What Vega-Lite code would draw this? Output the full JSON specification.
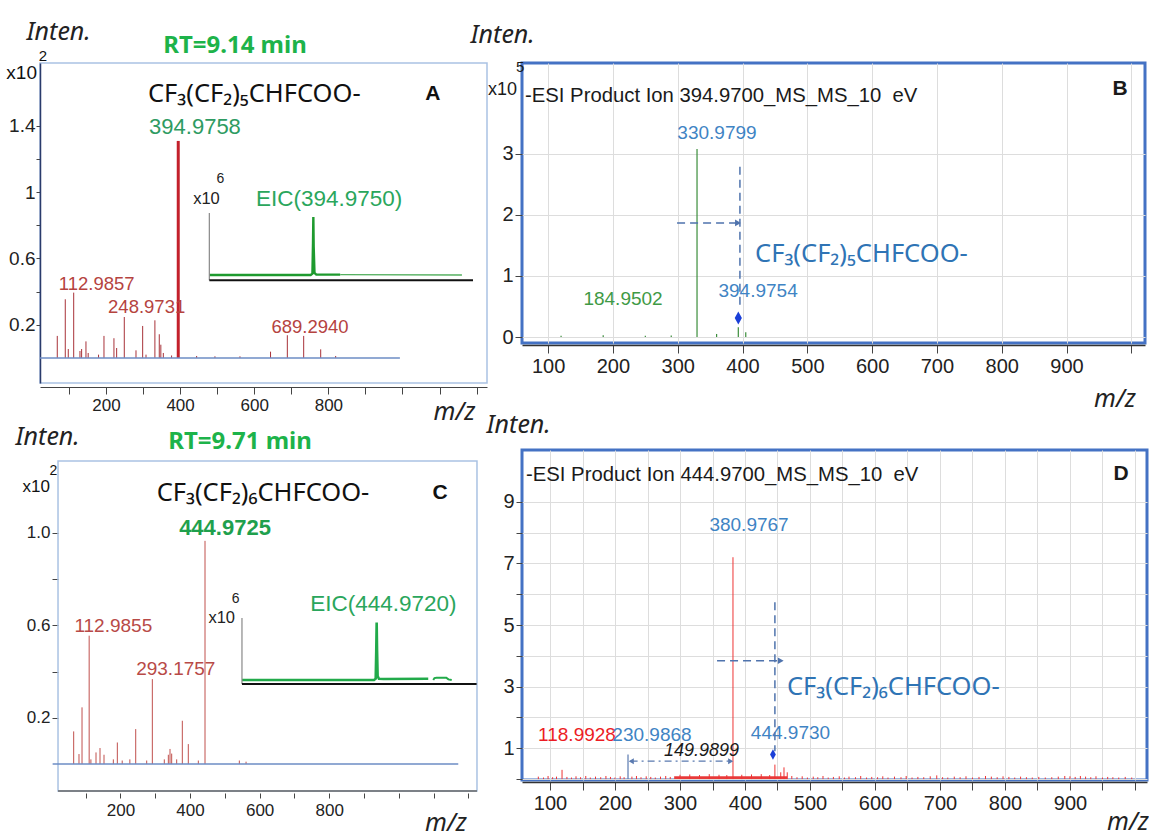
{
"$schema":"https://vega.github.io/schema/vega-lite/v6.json",
"background":"white",
"padding":{"left":5,"top":18,"right":2,"bottom":2},
"config":{"font":"Liberation Sans","view":{"stroke":null},
 "axis":{"labelFont":"Liberation Sans","labelColor":"#222","tickColor":"#444","domainColor":"#444","gridColor":"#dddddd","gridWidth":1,"titleFont":"Noto Sans","titleFontStyle":"italic","titleFontWeight":"normal","titleColor":"#222","titleFontSize":25,"titleAngle":0,"titleBaseline":"middle","labelOverlap":false,"labelFlush":false},
 "text":{"baseline":"middle"}},
"datasets":{
 "aPeaks":[{"mz":68.6,"i":0.133,"k":"f"},{"mz":90.2,"i":0.354,"k":"f"},{"mz":98.3,"i":0.054,"k":"f"},{"mz":112.9,"i":0.394,"k":"f"},{"mz":129.8,"i":0.042,"k":"f"},{"mz":134.3,"i":0.054,"k":"f"},{"mz":146,"i":0.1,"k":"f"},{"mz":152,"i":0.03,"k":"f"},{"mz":180,"i":0.02,"k":"f"},{"mz":194.6,"i":0.133,"k":"f"},{"mz":221.5,"i":0.119,"k":"f"},{"mz":228.8,"i":0.06,"k":"f"},{"mz":249.4,"i":0.247,"k":"f"},{"mz":281,"i":0.046,"k":"f"},{"mz":299,"i":0.193,"k":"f"},{"mz":308,"i":0.02,"k":"f"},{"mz":332,"i":0.227,"k":"f"},{"mz":343.8,"i":0.143,"k":"f"},{"mz":348,"i":0.08,"k":"f"},{"mz":354.7,"i":0.03,"k":"f"},{"mz":377,"i":0.015,"k":"f"},{"mz":394.98,"i":1.309,"k":"p"},{"mz":444.6,"i":0.012,"k":"f"},{"mz":494,"i":0.01,"k":"f"},{"mz":561.5,"i":0.01,"k":"f"},{"mz":644,"i":0.038,"k":"f"},{"mz":689.3,"i":0.137,"k":"f"},{"mz":733.4,"i":0.133,"k":"f"},{"mz":779.3,"i":0.052,"k":"f"},{"mz":819.7,"i":0.012,"k":"f"}],
 "aText":[{"mz":313.3,"i":1.592,"t":"CF₃(CF₂)₅CHFCOO-","k":"formula"},{"mz":1082,"i":1.595,"t":"A","k":"panel"},{"mz":440.1,"i":1.394,"t":"394.9758","k":"prec"},{"mz":174.8,"i":0.449,"t":"112.9857","k":"frag"},{"mz":309.7,"i":0.309,"t":"248.9731","k":"frag"},{"mz":750.4,"i":0.188,"t":"689.2940","k":"frag"},{"mz":13.8,"i":1.719,"t":"x10","k":"mult"},{"mz":30,"i":1.821,"t":"2","k":"sup"},{"mz":548,"i":1.882,"t":"RT=9.14 min","k":"rt"}],
 "aEic":[{"rt":0,"i":0.079,"s":"a"},{"rt":8.9,"i":0.079,"s":"a"},{"rt":9.06,"i":0.1,"s":"a"},{"rt":9.11,"i":0.55,"s":"a"},{"rt":9.14,"i":0.94,"s":"a"},{"rt":9.17,"i":0.5,"s":"a"},{"rt":9.24,"i":0.11,"s":"a"},{"rt":9.4,"i":0.085,"s":"a"},{"rt":11.5,"i":0.085,"s":"a"},{"rt":11.5,"i":0.085,"s":"b"},{"rt":22.2,"i":0.079,"s":"b"}],
 "aEicText":[{"rt":-0.25,"i":1.215,"t":"x10","k":"mult"},{"rt":0.98,"i":1.5,"t":"6","k":"sup"},{"rt":10.52,"i":1.208,"t":"EIC(394.9750)","k":"eic"}],
 "bPeaks":[{"mz":329.8,"i":3.08},{"mz":393.5,"i":0.16},{"mz":405,"i":0.08},{"mz":360,"i":0.05},{"mz":120,"i":0.02},{"mz":185,"i":0.03},{"mz":250,"i":0.02},{"mz":290,"i":0.025}],
 "bText":[{"mz":64.4,"i":3.95,"t":"-ESI Product Ion 394.9700_MS_MS_10 \u00a0eV","k":"title"},{"mz":982.6,"i":4.07,"t":"B","k":"panel"},{"mz":52,"i":4.05,"t":"x10","k":"mult"},{"mz":57,"i":4.43,"t":"5","k":"sup"},{"mz":360.6,"i":3.35,"t":"330.9799","k":"blue"},{"mz":215.6,"i":0.63,"t":"184.9502","k":"green"},{"mz":424,"i":0.746,"t":"394.9754","k":"blue"},{"mz":419.4,"i":1.36,"t":"CF₃(CF₂)₅CHFCOO-","k":"formula"}],
 "cPeaks":[{"mz":65.5,"i":0.141},{"mz":80.8,"i":0.043},{"mz":89.5,"i":0.245},{"mz":110,"i":0.555},{"mz":115,"i":0.02},{"mz":129.7,"i":0.05},{"mz":141.2,"i":0.069},{"mz":152.7,"i":0.04},{"mz":179.5,"i":0.02},{"mz":191,"i":0.093},{"mz":205,"i":0.015},{"mz":227,"i":0.02},{"mz":243.8,"i":0.151},{"mz":275.4,"i":0.015},{"mz":291.6,"i":0.367},{"mz":326,"i":0.02},{"mz":337.6,"i":0.04},{"mz":342.4,"i":0.065},{"mz":347.2,"i":0.045},{"mz":361.6,"i":0.02},{"mz":377.8,"i":0.187},{"mz":395,"i":0.086},{"mz":423.8,"i":0.015},{"mz":443,"i":0.965},{"mz":541.7,"i":0.015},{"mz":561,"i":0.01}],
 "cText":[{"mz":304,"i":1.174,"t":"CF₃(CF₂)₆CHFCOO-","k":"formula"},{"mz":1118.5,"i":1.174,"t":"C","k":"panel"},{"mz":500.5,"i":1.019,"t":"444.9725","k":"prec"},{"mz":179.4,"i":0.598,"t":"112.9855","k":"frag"},{"mz":359,"i":0.41,"t":"293.1757","k":"frag"},{"mz":-2.5,"i":1.196,"t":"x10","k":"mult"},{"mz":7,"i":1.268,"t":"2","k":"sup"},{"mz":543.6,"i":1.393,"t":"RT=9.71 min","k":"rt"}],
 "cEic":[{"rt":0,"i":0.06,"s":"a"},{"rt":9.5,"i":0.06,"s":"a"},{"rt":9.62,"i":0.08,"s":"a"},{"rt":9.66,"i":0.5,"s":"a"},{"rt":9.69,"i":0.93,"s":"a"},{"rt":9.72,"i":0.5,"s":"a"},{"rt":9.76,"i":0.12,"s":"a"},{"rt":9.85,"i":0.08,"s":"a"},{"rt":10.2,"i":0.075,"s":"a"},{"rt":13.4,"i":0.08,"s":"a"},{"rt":13.76,"i":0.06,"s":"b"},{"rt":13.85,"i":0.09,"s":"b"},{"rt":14.0,"i":0.095,"s":"b"},{"rt":14.7,"i":0.095,"s":"b"},{"rt":14.85,"i":0.07,"s":"b"},{"rt":15.09,"i":0.06,"s":"b"}],
 "cEicText":[{"rt":-1.46,"i":1.0,"t":"x10","k":"mult"},{"rt":-0.45,"i":1.29,"t":"6","k":"sup"},{"rt":10.17,"i":1.21,"t":"EIC(444.9720)","k":"eic"}],
 "dPeaks":[{"mz":381.5,"i":7.2,"k":"r"},{"mz":446,"i":0.47,"k":"r"},{"mz":118.5,"i":0.3,"k":"r"},{"mz":220,"i":0.8,"k":"b"},
  {"mz":82,"i":0.08,"k":"r"},{"mz":90,"i":0.05,"k":"r"},{"mz":97,"i":0.1,"k":"r"},{"mz":104,"i":0.06,"k":"r"},{"mz":110,"i":0.08,"k":"r"},{"mz":126,"i":0.07,"k":"r"},{"mz":133,"i":0.05,"k":"r"},{"mz":140,"i":0.09,"k":"r"},{"mz":147,"i":0.06,"k":"r"},{"mz":155,"i":0.1,"k":"r"},{"mz":162,"i":0.05,"k":"r"},{"mz":170,"i":0.08,"k":"r"},{"mz":178,"i":0.06,"k":"r"},{"mz":186,"i":0.1,"k":"r"},{"mz":193,"i":0.07,"k":"r"},{"mz":200,"i":0.05,"k":"r"},{"mz":208,"i":0.09,"k":"r"},{"mz":214,"i":0.06,"k":"r"},{"mz":226,"i":0.08,"k":"r"},{"mz":233,"i":0.1,"k":"r"},{"mz":240,"i":0.06,"k":"r"},{"mz":248,"i":0.09,"k":"r"},{"mz":255,"i":0.07,"k":"r"},{"mz":262,"i":0.05,"k":"r"},{"mz":270,"i":0.08,"k":"r"},{"mz":278,"i":0.1,"k":"r"},{"mz":285,"i":0.07,"k":"r"},{"mz":300,"i":0.14,"k":"r"},{"mz":315,"i":0.15,"k":"r"},{"mz":330,"i":0.13,"k":"r"},{"mz":345,"i":0.16,"k":"r"},{"mz":360,"i":0.14,"k":"r"},{"mz":372,"i":0.13,"k":"r"},{"mz":395,"i":0.14,"k":"r"},{"mz":410,"i":0.15,"k":"r"},{"mz":425,"i":0.16,"k":"r"},{"mz":438,"i":0.13,"k":"r"},{"mz":455,"i":0.22,"k":"r"},{"mz":460,"i":0.38,"k":"r"},{"mz":465,"i":0.22,"k":"r"},{"mz":472,"i":0.1,"k":"r"},{"mz":480,"i":0.06,"k":"r"},{"mz":488,"i":0.09,"k":"r"},{"mz":496,"i":0.05,"k":"r"},{"mz":505,"i":0.08,"k":"r"},{"mz":512,"i":0.06,"k":"r"},{"mz":520,"i":0.1,"k":"r"},{"mz":528,"i":0.05,"k":"r"},{"mz":536,"i":0.07,"k":"r"},{"mz":545,"i":0.09,"k":"r"},{"mz":553,"i":0.05,"k":"r"},{"mz":560,"i":0.08,"k":"r"},{"mz":570,"i":0.06,"k":"r"},{"mz":578,"i":0.1,"k":"r"},{"mz":587,"i":0.05,"k":"r"},{"mz":595,"i":0.07,"k":"r"},{"mz":604,"i":0.06,"k":"r"},{"mz":612,"i":0.09,"k":"r"},{"mz":620,"i":0.05,"k":"r"},{"mz":630,"i":0.08,"k":"r"},{"mz":640,"i":0.06,"k":"r"},{"mz":648,"i":0.1,"k":"r"},{"mz":657,"i":0.05,"k":"r"},{"mz":666,"i":0.07,"k":"r"},{"mz":675,"i":0.06,"k":"r"},{"mz":685,"i":0.09,"k":"r"},{"mz":695,"i":0.12,"k":"r"},{"mz":704,"i":0.06,"k":"r"},{"mz":712,"i":0.05,"k":"r"},{"mz":722,"i":0.08,"k":"r"},{"mz":731,"i":0.06,"k":"r"},{"mz":740,"i":0.09,"k":"r"},{"mz":750,"i":0.05,"k":"r"},{"mz":760,"i":0.07,"k":"r"},{"mz":770,"i":0.1,"k":"r"},{"mz":779,"i":0.08,"k":"r"},{"mz":788,"i":0.06,"k":"r"},{"mz":797,"i":0.09,"k":"r"},{"mz":806,"i":0.07,"k":"r"},{"mz":815,"i":0.05,"k":"r"},{"mz":824,"i":0.08,"k":"r"},{"mz":833,"i":0.06,"k":"r"},{"mz":842,"i":0.05,"k":"r"},{"mz":852,"i":0.07,"k":"r"},{"mz":862,"i":0.05,"k":"r"},{"mz":872,"i":0.06,"k":"r"},{"mz":882,"i":0.08,"k":"r"},{"mz":892,"i":0.1,"k":"r"},{"mz":900,"i":0.09,"k":"r"},{"mz":908,"i":0.07,"k":"r"},{"mz":916,"i":0.1,"k":"r"},{"mz":924,"i":0.08,"k":"r"},{"mz":932,"i":0.06,"k":"r"},{"mz":940,"i":0.09,"k":"r"},{"mz":950,"i":0.05,"k":"r"},{"mz":958,"i":0.07,"k":"r"},{"mz":966,"i":0.06,"k":"r"},{"mz":975,"i":0.05,"k":"r"},{"mz":985,"i":0.07,"k":"r"},{"mz":995,"i":0.05,"k":"r"}],
 "dBand":[{"lo":291,"hi":465,"i":0.09}],
 "dText":[{"mz":63.1,"i":9.87,"t":"-ESI Product Ion 444.9700_MS_MS_10 \u00a0eV","k":"title"},{"mz":978.5,"i":9.89,"t":"D","k":"panel"},{"mz":406.2,"i":8.23,"t":"380.9767","k":"blue"},{"mz":141.5,"i":1.435,"t":"118.9928","k":"red"},{"mz":256.9,"i":1.435,"t":"230.9868","k":"blue"},{"mz":470,"i":1.5,"t":"444.9730","k":"blue"},{"mz":333,"i":0.92,"t":"149.9899","k":"italic"},{"mz":464.6,"i":3.0,"t":"CF₃(CF₂)₆CHFCOO-","k":"formula"}]
},
"columns":2,
"spacing":{"row":67,"column":35},
"bounds":"flush",
"align":{"row":"each","column":"none"},
"concat":[
 {"width":447,"height":320,
  "view":{"stroke":"#aac2e3","strokeWidth":1.5},
  "resolve":{"scale":{"x":"independent","y":"independent"}},
  "layer":[
   {"layer":[
    {"encoding":{
      "x":{"field":"mz","type":"quantitative","scale":{"domain":[22,1228],"nice":false,"zero":false},
       "axis":{"values":[100,200,300,400,500,600,700,800,900,1000,1100,1200],"format":"d","labelOverlap":false,"labelExpr":"(datum.value==200||datum.value==400||datum.value==600||datum.value==800)?format(datum.value,'d'):''","labelDx":8,"labelFontSize":17,"labelPadding":3,"tickSize":7,"offset":4,"grid":false,"title":"m/z","titleX":414,"titleY":24,"titleAlign":"center"}},
      "y":{"field":"i","type":"quantitative","scale":{"domain":[-0.151,1.779],"nice":false,"zero":false},
       "axis":{"values":[0.2,0.4,0.6,0.8,1,1.2,1.4],"labelOverlap":false,"labelExpr":"abs(datum.value-1)<0.01?'1':((abs(datum.value-0.2)<0.01||abs(datum.value-0.6)<0.01||abs(datum.value-1.4)<0.01)?format(datum.value,'.1f'):'')","labelFontSize":19,"labelPadding":1,"tickSize":4,"grid":false,"domainColor":"#2a3b6b","domainWidth":1.5,"title":"Inten.","titleX":-14,"titleY":-32,"titleAlign":"left"}}},
     "layer":[
      {"data":{"name":"aPeaks"},"transform":[{"filter":"datum.k=='f'"}],"mark":{"type":"rule","color":"#a83239","strokeWidth":1},"encoding":{"y2":{"datum":0}}},
      {"data":{"name":"aPeaks"},"transform":[{"filter":"datum.k=='p'"}],"mark":{"type":"rule","color":"#c3202b","strokeWidth":3},"encoding":{"y2":{"datum":0}}},
      {"data":{"name":"aText"},"mark":{"type":"text",
        "fontSize":{"expr":"datum.k=='frag'?18.5:datum.k=='prec'?22:datum.k=='formula'?25.5:datum.k=='panel'?21:datum.k=='rt'?24:datum.k=='mult'?19:15"},
        "font":{"expr":"datum.k=='formula'||datum.k=='rt'?'Noto Sans':'Liberation Sans'"},
        "fontWeight":{"expr":"datum.k=='panel'||datum.k=='rt'?'bold':'normal'"},
        "align":{"expr":"datum.k=='formula'?'left':datum.k=='mult'?'right':'center'"},
        "fill":{"expr":"datum.k=='frag'?'#b5433f':datum.k=='prec'?'#2e9b62':datum.k=='rt'?'#1db34a':'#111111'"}},
       "encoding":{"text":{"field":"t"}}}
     ]},
    {"layer":[
      {"data":{"values":[{}]},"mark":{"type":"rule","color":"#6d8cc4","strokeWidth":1.5},"encoding":{"x":{"datum":22},"x2":{"datum":993},"y":{"datum":0}}}
     ]}
   ]},
   {"layer":[
    {"encoding":{
      "x":{"field":"rt","type":"quantitative","scale":{"domain":[-14.88,24.4],"nice":false,"zero":false},"axis":null},
      "y":{"field":"i","type":"quantitative","scale":{"domain":[-1.526,3.229],"nice":false,"zero":false},"axis":null}},
     "layer":[
      {"data":{"name":"aEic"},"transform":[{"filter":"datum.s=='a'"}],"mark":{"type":"line","color":"#1e9a2e","strokeWidth":2.4},"encoding":{}},
      {"data":{"name":"aEic"},"transform":[{"filter":"datum.s=='b'"}],"mark":{"type":"line","color":"#55b060","strokeWidth":1.3},"encoding":{}},
      {"data":{"name":"aEicText"},"mark":{"type":"text","align":"center",
        "fontSize":{"expr":"datum.k=='eic'?22.5:datum.k=='mult'?16.5:14"},
        "fill":{"expr":"datum.k=='eic'?'#2aa65c':'#222222'"}},
       "encoding":{"text":{"field":"t"}}}
     ]},
    {"layer":[
      {"data":{"values":[{}]},"mark":{"type":"rule","color":"#888888","strokeWidth":1.2},"encoding":{"x":{"datum":0},"y":{"datum":0},"y2":{"datum":1}}},
      {"data":{"values":[{}]},"mark":{"type":"rule","color":"#111111","strokeWidth":2},"encoding":{"x":{"datum":0},"x2":{"datum":23.17},"y":{"datum":0}}}
     ]}
   ]}
  ]},
 {"width":623,"height":280,
  "view":{"stroke":"#4472c4","strokeWidth":3},
  "layer":[
   {"encoding":{
     "x":{"field":"mz","type":"quantitative","scale":{"domain":[59.7,1021.1],"nice":false,"zero":false},
      "axis":{"values":[100,150,200,250,300,350,400,450,500,550,600,650,700,750,800,850,900,950,1000],"format":"d","labelOverlap":false,"labelExpr":"(datum.value%100==0&&datum.value<1000)?format(datum.value,'d'):''","grid":true,"tickSize":8,"offset":2,"labelFontSize":20,"labelPadding":3,"domainColor":"#333333","domainWidth":1.5,"title":"m/z","titleX":592.5,"titleY":53,"titleAlign":"center"}},
     "y":{"field":"i","type":"quantitative","scale":{"domain":[-0.098,4.49],"nice":false,"zero":false},
      "axis":{"values":[0,1,2,3],"format":"d","labelOverlap":false,"grid":true,"domain":false,"tickSize":7,"labelFontSize":20,"labelPadding":2,"title":"Inten.","titleX":-52,"titleY":-29,"titleAlign":"left"}}},
    "layer":[
     {"data":{"name":"bPeaks"},"mark":{"type":"rule","color":"#3b8d3b","strokeWidth":1.2},"encoding":{"y2":{"datum":0}}},
     {"data":{"name":"bText"},"mark":{"type":"text",
       "fontSize":{"expr":"datum.k=='title'?20.3:datum.k=='panel'?21:datum.k=='mult'?18:datum.k=='sup'?15:datum.k=='formula'?25.5:19"},
       "font":{"expr":"datum.k=='formula'?'Noto Sans':'Liberation Sans'"},
       "fontWeight":{"expr":"datum.k=='panel'?'bold':'normal'"},
       "align":{"expr":"datum.k=='title'||datum.k=='formula'?'left':datum.k=='mult'?'right':'center'"},
       "fill":{"expr":"datum.k=='blue'?'#3f84c4':datum.k=='green'?'#3f9a45':datum.k=='formula'?'#2f74b5':'#1a1a1a'"}},
      "encoding":{"text":{"field":"t"}}}
    ]},
   {"layer":[
     {"data":{"values":[{}]},"mark":{"type":"rule","color":"#4f73ad","strokeWidth":1.5,"strokeDash":[8,5]},"encoding":{"x":{"datum":396},"y":{"datum":2.79},"y2":{"datum":0.45}}},
     {"data":{"values":[{}]},"mark":{"type":"rule","color":"#4f73ad","strokeWidth":1.5,"strokeDash":[8,5]},"encoding":{"x":{"datum":299},"x2":{"datum":391},"y":{"datum":1.87}}},
     {"data":{"values":[{}]},"mark":{"type":"point","shape":"triangle-right","filled":true,"size":45,"color":"#4f73ad","opacity":1},"encoding":{"x":{"datum":393},"y":{"datum":1.87}}},
     {"data":{"values":[{}]},"mark":{"type":"point","shape":"M0,-1L0.55,0L0,1L-0.55,0Z","filled":true,"size":170,"color":"#1a3fd8","opacity":1},"encoding":{"x":{"datum":393.5},"y":{"datum":0.31}}}
    ]}
  ]},
 {"width":443,"height":341,
  "view":{"stroke":null},
  "resolve":{"scale":{"x":"independent","y":"independent"}},
  "layer":[
   {"layer":[
    {"encoding":{
      "x":{"field":"mz","type":"quantitative","scale":{"domain":[-31.3,1242.1],"nice":false,"zero":false},
       "axis":{"values":[100,200,300,400,500,600,700,800,900,1000,1100,1200],"format":"d","labelOverlap":false,"labelExpr":"(datum.value==200||datum.value==400||datum.value==600||datum.value==800)?format(datum.value,'d'):''","labelDx":9,"labelFontSize":17,"labelPadding":4,"tickSize":5,"offset":2,"domain":false,"grid":false,"title":"m/z","titleX":405.5,"titleY":29,"titleAlign":"center"}},
      "y":{"field":"i","type":"quantitative","scale":{"domain":[-0.1168,1.358],"nice":false,"zero":false},
       "axis":{"values":[0.2,0.4,0.6,0.8,1],"labelOverlap":false,"labelExpr":"(abs(datum.value-0.2)<0.01||abs(datum.value-0.6)<0.01||abs(datum.value-1)<0.01)?format(datum.value,'.1f'):''","labelFontSize":17,"labelPadding":2,"tickSize":6,"offset":-18,"domain":false,"grid":false,"title":"Inten.","titleX":-43,"titleY":-14,"titleAlign":"left"}}},
     "layer":[
      {"data":{"name":"cPeaks"},"mark":{"type":"rule","color":"#c0504d","strokeWidth":1},"encoding":{"y2":{"datum":0}}},
      {"data":{"name":"cText"},"mark":{"type":"text",
        "fontSize":{"expr":"datum.k=='frag'?19:datum.k=='prec'?22:datum.k=='formula'?25.5:datum.k=='panel'?21:datum.k=='rt'?24:datum.k=='mult'?17:14"},
        "font":{"expr":"datum.k=='formula'||datum.k=='rt'?'Noto Sans':'Liberation Sans'"},
        "fontWeight":{"expr":"datum.k=='panel'||datum.k=='rt'||datum.k=='prec'?'bold':'normal'"},
        "align":{"expr":"datum.k=='formula'?'left':datum.k=='mult'?'right':'center'"},
        "fill":{"expr":"datum.k=='frag'?'#b84a47':datum.k=='prec'?'#1fa04d':datum.k=='rt'?'#1db34a':'#111111'"}},
       "encoding":{"text":{"field":"t"}}}
     ]},
    {"layer":[
      {"data":{"values":[{}]},"mark":{"type":"rect","filled":false,"color":"#aac2e3","strokeWidth":1.5},"encoding":{"x":{"datum":20.5,"type":"quantitative"},"x2":{"datum":1224.8},"y":{"datum":{"expr":"-0.1168"},"type":"quantitative"},"y2":{"datum":1.31}}},
      {"data":{"values":[{}]},"mark":{"type":"rule","color":"#666666","strokeWidth":1.5},"encoding":{"x":{"datum":20.5,"type":"quantitative"},"x2":{"datum":1224.8},"y":{"datum":{"expr":"-0.1168"},"type":"quantitative"}}},
      {"data":{"values":[{}]},"mark":{"type":"rule","color":"#6d8cc4","strokeWidth":1.5},"encoding":{"x":{"datum":5},"x2":{"datum":1171},"y":{"datum":0}}}
     ]}
   ]},
   {"layer":[
    {"encoding":{
      "x":{"field":"rt","type":"quantitative","scale":{"domain":[-14.53,17.34],"nice":false,"zero":false},"axis":null},
      "y":{"field":"i","type":"quantitative","scale":{"domain":[-1.621,3.545],"nice":false,"zero":false},"axis":null}},
     "layer":[
      {"data":{"name":"cEic"},"transform":[{"filter":"datum.s=='a'"}],"mark":{"type":"line","color":"#22aa4a","strokeWidth":2.6},"encoding":{}},
      {"data":{"name":"cEic"},"transform":[{"filter":"datum.s=='b'"}],"mark":{"type":"line","color":"#22aa4a","strokeWidth":2},"encoding":{}},
      {"data":{"name":"cEicText"},"mark":{"type":"text","align":"center",
        "fontSize":{"expr":"datum.k=='eic'?22.5:datum.k=='mult'?16.5:14"},
        "fill":{"expr":"datum.k=='eic'?'#2aa65c':'#222222'"}},
       "encoding":{"text":{"field":"t"}}}
     ]},
    {"layer":[
      {"data":{"values":[{}]},"mark":{"type":"rule","color":"#888888","strokeWidth":1.2},"encoding":{"x":{"datum":0},"y":{"datum":0},"y2":{"datum":1}}},
      {"data":{"values":[{}]},"mark":{"type":"rule","color":"#111111","strokeWidth":2},"encoding":{"x":{"datum":0},"x2":{"datum":16.88},"y":{"datum":0}}}
     ]}
   ]}
  ]},
 {"width":625,"height":330,
  "view":{"stroke":"#4472c4","strokeWidth":3},
  "resolve":{"axis":{"x":"independent","y":"independent"}},
  "layer":[
   {"encoding":{
     "x":{"field":"mz","type":"quantitative","scale":{"domain":[56.9,1018.5],"nice":false,"zero":false},
      "axis":{"values":[100,150,200,250,300,350,400,450,500,550,600,650,700,750,800,850,900,950,1000],"format":"d","labelOverlap":false,"labelExpr":"(datum.value%100==0&&datum.value<1000)?format(datum.value,'d'):''","grid":true,"tickSize":8,"offset":2,"labelFontSize":20,"labelPadding":3,"domainColor":"#333333","domainWidth":1.5,"title":"m/z","titleX":605.5,"titleY":39,"titleAlign":"center"}},
     "y":{"field":"i","type":"quantitative","scale":{"domain":[-0.03,10.68],"nice":false,"zero":false},
      "axis":{"values":[0,1,2,3,4,5,6,7,8,9],"format":"d","labelOverlap":false,"labelExpr":"(abs(datum.value-1)<0.01||abs(datum.value-3)<0.01||abs(datum.value-5)<0.01||abs(datum.value-7)<0.01||abs(datum.value-9)<0.01)?format(datum.value,'d'):''","grid":true,"domain":false,"tickSize":6,"labelFontSize":20,"labelPadding":2,"title":"Inten.","titleX":-36,"titleY":-26,"titleAlign":"left"}}},
    "layer":[
     {"data":{"name":"dBand"},"mark":{"type":"rect","color":"#e83a3a"},"encoding":{"x":{"field":"lo","type":"quantitative"},"x2":{"field":"hi"},"y2":{"datum":0}}},
     {"data":{"name":"dPeaks"},"transform":[{"filter":"datum.k=='r'"}],"mark":{"type":"rule","color":"#ee3333","strokeWidth":1},"encoding":{"y2":{"datum":0}}},
     {"data":{"name":"dPeaks"},"transform":[{"filter":"datum.k=='b'"}],"mark":{"type":"rule","color":"#5a7ab0","strokeWidth":1.2},"encoding":{"y2":{"datum":0}}},
     {"data":{"name":"dText"},"mark":{"type":"text",
       "fontSize":{"expr":"datum.k=='title'?20.3:datum.k=='panel'?21:datum.k=='formula'?25.5:datum.k=='italic'?18:19"},
       "font":{"expr":"datum.k=='formula'?'Noto Sans':'Liberation Sans'"},
       "fontWeight":{"expr":"datum.k=='panel'?'bold':'normal'"},
       "fontStyle":{"expr":"datum.k=='italic'?'italic':'normal'"},
       "align":{"expr":"datum.k=='title'||datum.k=='formula'?'left':'center'"},
       "fill":{"expr":"datum.k=='blue'?'#3f84c4':datum.k=='red'?'#ec1c24':datum.k=='formula'?'#2f74b5':'#1a1a1a'"}},
      "encoding":{"text":{"field":"t"}}}
    ]},
   {"layer":[
     {"data":{"values":[{}]},"mark":{"type":"rule","color":"#4f73ad","strokeWidth":1.5,"strokeDash":[8,5]},"encoding":{"x":{"datum":446,"axis":null},"y":{"datum":5.74,"axis":null},"y2":{"datum":0.9}}},
     {"data":{"values":[{}]},"mark":{"type":"rule","color":"#4f73ad","strokeWidth":1.5,"strokeDash":[8,5]},"encoding":{"x":{"datum":357,"axis":null},"x2":{"datum":453},"y":{"datum":3.84,"axis":null}}},
     {"data":{"values":[{}]},"mark":{"type":"point","shape":"triangle-right","filled":true,"size":45,"color":"#4f73ad","opacity":1},"encoding":{"x":{"datum":455,"axis":null},"y":{"datum":3.84,"axis":null}}},
     {"data":{"values":[{}]},"mark":{"type":"rule","color":"#5a7ab0","strokeWidth":1.3,"strokeDash":[7,4,2,4]},"encoding":{"x":{"datum":224,"axis":null},"x2":{"datum":378},"y":{"datum":0.58,"axis":null}}},
     {"data":{"values":[{}]},"mark":{"type":"point","shape":"triangle-left","filled":true,"size":35,"color":"#5a7ab0","opacity":1},"encoding":{"x":{"datum":225,"axis":null},"y":{"datum":0.58,"axis":null}}},
     {"data":{"values":[{}]},"mark":{"type":"point","shape":"triangle-right","filled":true,"size":35,"color":"#5a7ab0","opacity":1},"encoding":{"x":{"datum":378,"axis":null},"y":{"datum":0.58,"axis":null}}},
     {"data":{"values":[{}]},"mark":{"type":"point","shape":"M0,-1L0.55,0L0,1L-0.55,0Z","filled":true,"size":110,"color":"#1a3fd8","opacity":1},"encoding":{"x":{"datum":443,"axis":null},"y":{"datum":0.8,"axis":null}}}
    ]}
  ]}
]
}
